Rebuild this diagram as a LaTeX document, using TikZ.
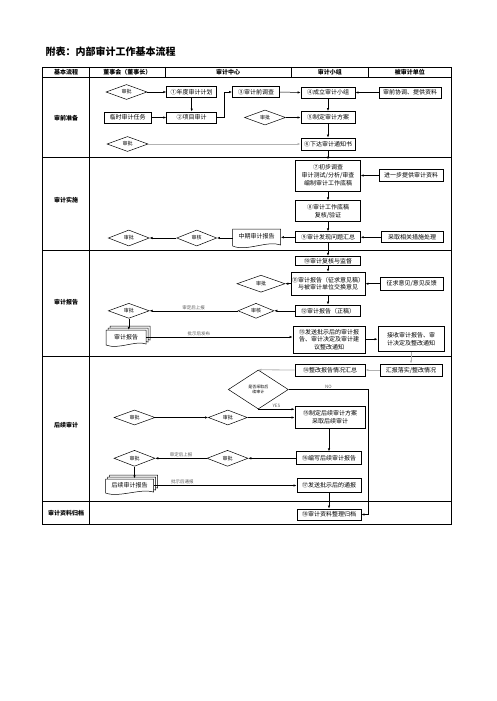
\documentclass[tikz,border=0pt]{standalone}
\usepackage{fontspec}
\setmainfont{Noto Sans CJK SC}
\usetikzlibrary{shapes.geometric,arrows.meta}

\tikzset{
  >={Latex[length=3pt,width=2.4pt]},
  box/.style={draw, line width=0.9pt, minimum height=11pt, inner sep=1pt,
    align=center, font=\fontsize{6}{7.8}\selectfont},
  dia/.style={draw, diamond, line width=0.5pt, inner sep=0pt, aspect=2.7,
    minimum width=41pt, minimum height=15pt, font=\fontsize{5}{6}\selectfont},
  doc/.style={inner sep=0pt, minimum width=40pt, minimum height=14pt,
    font=\fontsize{6}{7}\selectfont},
  link/.style={->, line width=0.5pt},
  faint/.style={->, line width=0.8pt, gray!60},
  note/.style={font=\fontsize{4.5}{5}\selectfont, text=gray!70!black, inner sep=1pt},
  phase/.style={font=\bfseries\fontsize{6}{7}\selectfont},
  tabline/.style={line width=0.8pt},
}

\begin{document}
\begin{tikzpicture}[x=1pt,y=-1pt]
    \useasboundingbox (0,0) rectangle (496,701);
    \node[anchor=west, font=\bfseries\fontsize{10}{12}\selectfont] (title) at (42,51.5) {附表：内部审计工作基本流程};
    % Table
    \draw[tabline] (42.5,67) rectangle (451,524);
    \foreach \y in {77,157,250,356,501}{
        \draw[tabline] (42.5,\y) -- (451,\y);
    }
    \draw[tabline] (89.5,67) -- (89.5,524);
    \foreach \x in {165,291,368.5}{
        \draw[tabline] (\x,67) -- (\x,77);
    }
    \node[phase] (hflow) at (66,72) {基本流程};
    \node[phase] (hboard) at (127.3,72) {董事会（董事长）};
    \node[phase] (hcenter) at (228,72) {审计中心};
    \node[phase] (hteam) at (329.8,72) {审计小组};
    \node[phase] (hunit) at (409.8,72) {被审计单位};
    \node[phase] (pprep) at (66,118) {审前准备};
    \node[phase] (pdo) at (66,200) {审计实施};
    \node[phase] (preport) at (66,302) {审计报告};
    \node[phase] (pfollow) at (66,425) {后续审计};
    \node[phase] (parchive) at (66,513) {审计资料归档};
    % Audit preparation
    \node[dia] (d1) at (126.5,92) {审批};
    \node[box, minimum width=50pt] (n1) at (191.7,92) {①年度审计计划};
    \node[box, minimum width=47pt] (t0) at (127.5,117.5) {临时审计任务};
    \node[box, minimum width=50pt] (n2) at (191.7,117.5) {②项目审计};
    \node[box, minimum width=47pt] (n3) at (256,92) {③审计前调查};
    \node[box, minimum width=54pt] (n4) at (328,92.5) {④成立审计小组};
    \node[box, minimum width=62pt] (u1) at (410,92.5) {审前协调、提供资料};
    \node[dia] (d2) at (265,117.5) {审批};
    \node[box, minimum width=54pt, minimum height=12pt] (n5) at (328,117.5) {⑤制定审计方案};
    \node[dia] (d3) at (127.5,144) {审批};
    \node[box, minimum width=54pt, minimum height=12pt] (n6) at (328,144) {⑥下达审计通知书};
    \draw[link] (d1.east) -- (n1.west);
    \draw[link] (n1.south) -- (n2.north);
    \draw[link] (t0.east) -- (n2.west);
    \draw[link] (n2.east) -- ++(7,0) |- (n3.west);
    \draw[link] (n3.east) -- (n4.west);
    \draw[link] (u1.west) -- (n4.east);
    \draw[link] (n4.south) -- (n5.north);
    \draw[link] (d2.east) -- (n5.west);
    \draw[link] (n5.south) -- (n6.north);
    \draw[faint] (d3.east) -- (n6.west);
    % Audit execution
    \node[box, minimum width=64.5pt, minimum height=31pt] (n7) at (328,175.5) {⑦初步调查\\审计测试/分析/审查\\编制审计工作底稿};
    \node[box, minimum width=64pt, minimum height=12pt] (u2) at (411,175.5) {进一步提供审计资料};
    \node[box, minimum width=64.5pt, minimum height=21pt] (n8) at (328,211.3) {⑧审计工作底稿\\复核/验证};
    \node[box, minimum width=64.5pt] (n9) at (328,237.3) {⑨审计发现问题汇总};
    \node[box, minimum width=62pt] (u3) at (412,237.3) {采取相关措施处理};
    \filldraw[fill=white, line width=0.5pt] (232.7,229) -- (280.7,229) -- (280.7,245) .. controls (268,240) and (246,252) .. (232.7,246) -- cycle;
    \node[doc, minimum width=48pt] (c1) at (256.7,236.5) {中期审计报告};
    \node[dia, minimum width=40pt, minimum height=16pt] (d4) at (196.7,238) {审核};
    \node[dia, minimum height=16pt] (d5) at (128.8,238) {审批};
    \draw[link] (n6.south) -- (n7.north);
    \draw[link] (u2.west) -- (n7.east);
    \draw[link] (n7.south) -- (n8.north);
    \draw[link] (n8.south) -- (n9.north);
    \draw[link] (u3.west) -- (n9.east);
    \draw[link] (n9.west) -- (n9.west -| c1.east);
    \draw[link] (c1.west |- d4.east) -- (d4.east);
    \draw[link] (d4.west) -- (d5.east);
    % Audit report
    \node[box, minimum width=65.5pt, minimum height=9pt] (n10) at (328,260.8) {⑩审计复核与监督};
    \node[box, minimum width=74pt, minimum height=23pt] (n11) at (328,283.7) {⑪审计报告（征求意见稿）\\与被审计单位交换意见};
    \node[dia, minimum width=48pt, minimum height=17pt] (d6) at (261,283.7) {审批};
    \node[box, minimum width=63pt, minimum height=13pt] (u4) at (411.7,283.7) {征求意见/意见反馈};
    \node[box, minimum width=65.5pt, minimum height=11.5pt] (n12) at (328,310.8) {⑫审计报告（正稿）};
    \node[dia, minimum width=36pt] (d7) at (256,310.8) {审核};
    \node[dia] (d8) at (128.8,310.8) {审批};
    \foreach \s in {4,2,0}{
        \filldraw[fill=white, line width=0.5pt, xshift=\s pt, yshift=\s pt] (106,330) -- (146,330) -- (146,344) .. controls (136,340) and (118,350) .. (106,345) -- cycle;
    }
    \node[doc] (r1) at (126,337) {审计报告};
    \node[box, minimum width=72pt, minimum height=27pt] (n13) at (329,339.7) {⑬发送批示后的审计报\\告、审计决定及审计建\\议整改通知};
    \node[box, minimum width=66pt, minimum height=25pt] (u5) at (411,339.2) {接收审计报告、审\\计决定及整改通知};
    \draw[link] (n9.south) -- (n10.north);
    \draw[link] (n10.south) -- (n11.north);
    \draw[link] (u4.west) -- (n11.east);
    \draw[link] (n11.west) -- (d6.east);
    \draw[link] (n11.south) -- (n12.north);
    \draw[link] (n12.west) -- (d7.east);
    \draw[link] (d7.west) -- (d8.east) node[note, above, midway] {审定后上报};
    \draw[link] (d8.south) -- (r1.north -| d8.south);
    \draw[link] (r1.east) -- (r1.east -| n13.west) node[note, above, pos=0.36] {批示后发布};
    \draw[link] (n13.east |- u5.west) -- (u5.west);
    % Follow-up audit
    \node[box, minimum width=62pt, minimum height=12pt] (u6) at (411,370) {汇报落实/整改情况};
    \node[box, minimum width=70pt, minimum height=12pt] (n14) at (330,370) {⑭整改报告情况汇总};
    \node[dia, aspect=1.5, minimum width=60pt, minimum height=39pt, font=\fontsize{4}{5}\selectfont, align=center] (q1) at (258.3,389.5) {是否采取后\\续审计};
    \node[box, minimum width=70pt, minimum height=22pt] (n15) at (330,417) {⑮制定后续审计方案\\采取后续审计};
    \node[dia] (d9) at (134.5,417.5) {审批};
    \node[dia, minimum width=39pt] (d10) at (227.8,417.5) {审批};
    \draw[faint] (u5.south) -- (u6.north);
    \draw[faint] (u6.west) -- (n14.east);
    \draw[faint] (n14.west) -- (q1.north);
    \draw[link] (q1.south) -- (q1.south -| n15.west) node[note, above, midway] {YES};
    \draw[link] (d9.east) -- (d10.west);
    \draw[link] (d10.east) -- (d10.east -| n15.west);
    \node[box, minimum width=65.5pt, minimum height=13pt] (n16) at (329,458.3) {⑯编写后续审计报告};
    \node[dia, minimum height=16pt] (d11) at (227.5,458.3) {审批};
    \node[dia, minimum height=16pt] (d12) at (134.5,458.3) {审批};
    \foreach \s in {4,2,0}{
        \filldraw[fill=white, line width=0.5pt, xshift=\s pt, yshift=\s pt] (105.5,479) -- (153.5,479) -- (153.5,492) .. controls (141,488) and (119,498) .. (105.5,493) -- cycle;
    }
    \node[doc, minimum width=48pt] (r2) at (129.5,485.5) {后续审计报告};
    \node[box, minimum width=64pt, minimum height=14pt] (n17) at (329,485.3) {⑰发送批示后的通报};
    \node[box, minimum width=64pt, minimum height=11pt] (n18) at (329,514.5) {⑱审计资料整理归档};
    \coordinate (nobend) at (368.5,389.5);
    \draw[link] (q1.east) -- (nobend) node[note, above, midway] {NO} |- (n18.east);
    \draw[link] (n15.south -| n16.north) -- (n16.north);
    \draw[link] (n16.west) -- (d11.east);
    \draw[link] (d11.west) -- (d12.east) node[note, above, midway] {审定后上报};
    \draw[link] (d12.south) -- (r2.north -| d12.south);
    \draw[link] (r2.east) -- (r2.east -| n17.west) node[note, above, pos=0.2] {批示后通报};
    \draw[link] (n17.south) -- (n18.north);
\end{tikzpicture}
\end{document}
